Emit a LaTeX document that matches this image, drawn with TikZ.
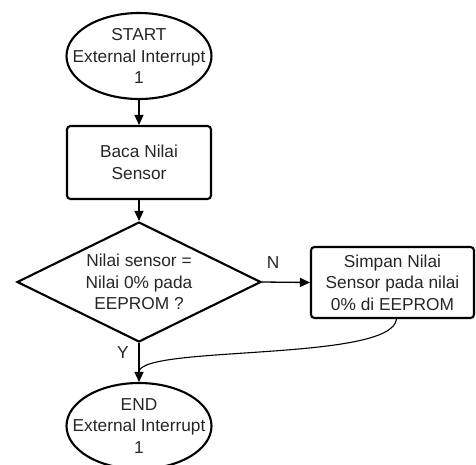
\documentclass[tikz,border=0pt]{standalone}
\usepackage{fontspec}
\setmainfont{Liberation Sans}
\usetikzlibrary{shapes.geometric,arrows.meta}
\tikzset{
  base/.style={draw=black, line width=2.1pt, align=center, inner sep=0pt,
    font=\fontsize{17.3}{21.5}\selectfont, text=black!85},
  term/.style={base, ellipse, inner xsep=-18pt, inner ysep=-4pt, minimum width=145pt, minimum height=86pt},
  proc/.style={base, rectangle, rounded corners=3.5pt},
  decis/.style={base, diamond, aspect=2.03, inner sep=-2pt, minimum width=244pt, minimum height=120pt},
  conn/.style={line width=1.3pt, -{Triangle[length=10pt,width=9pt]}},
  lbl/.style={font=\fontsize{17.3}{21.5}\selectfont, text=black!85, inner sep=0pt}
}
\begin{document}
\begin{tikzpicture}[x=1pt,y=-1pt]
\useasboundingbox (0,0) rectangle (476,464);
\clip (0,0) rectangle (476,464);
\node[term] (start) at (139,56) {START\\External Interrupt\\1};
\node[proc, minimum width=144pt, minimum height=73pt] (baca) at (139,162.5) {Baca Nilai\\Sensor};
\node[decis] (dec) at (139,282) {Nilai sensor =\\Nilai 0\% pada\\EEPROM ?};
\node[proc, minimum width=163pt, minimum height=71pt] (simpan) at (392.5,282.5) {Simpan Nilai\\Sensor pada nilai\\0\% di EEPROM};
\node[term] (end) at (139,426) {END\\External Interrupt\\1};
\coordinate (merge) at (139,372);
\draw[conn] (start) -- (baca);
\draw[conn] (baca) -- (dec);
\draw[conn] (dec.east) -- (simpan.west);
\draw[conn] (dec.south) -- (end.north);
\draw[line width=1.1pt] ([xshift=4pt]simpan.south) .. controls (392,362) and (140,345) .. (merge);
\node[lbl] (nlbl) at (273,263) {N};
\node[lbl] (ylbl) at (123,353) {Y};
\end{tikzpicture}
\end{document}
